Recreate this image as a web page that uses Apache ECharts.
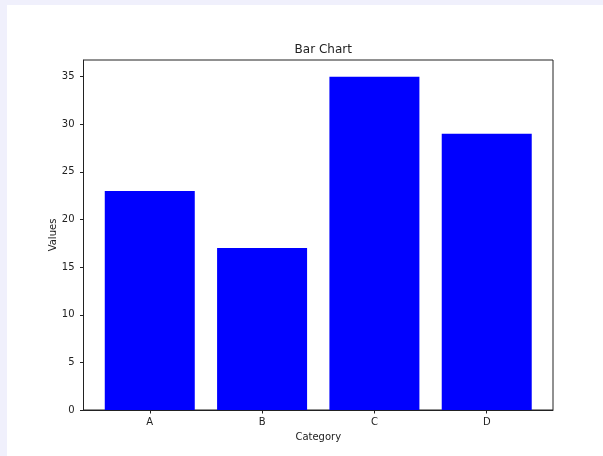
<!DOCTYPE html>
<html>
<head>
<meta charset="utf-8">
<script src="https://cdn.jsdelivr.net/npm/echarts@6/dist/echarts.min.js"></script>
<style>
  html, body { margin: 0; padding: 0; width: 603px; height: 456px; overflow: hidden; background: #f0f0fc; }
  #chart { position: absolute; left: 7px; top: 5px; width: 596px; height: 451px; background: #ffffff; }
</style>
</head>
<body>
<div id="chart"></div>
<script>
const categories = ['A', 'B', 'C', 'D'];
const values = [23, 17, 35, 29];
const yTicks = [0, 5, 10, 15, 20, 25, 30, 35];
const titleText = 'Bar Chart';
const xName = 'Category';
const yName = 'Values';

const positions = categories.map((c, i) => i);
const seriesData = values.map((v, i) => [positions[i], v]);

const chart = echarts.init(document.getElementById('chart'), null, { renderer: 'canvas' });
const FONT = 'DejaVu Sans';
const TXT = '#222';
chart.setOption({
  animation: false,
  backgroundColor: 'transparent',
  title: {
    text: titleText,
    left: 311.25, textAlign: 'center',
    top: 34,
    textStyle: { fontFamily: FONT, fontSize: 12, fontWeight: 'normal', color: TXT }
  },
  grid: {
    left: 76.5, top: 55, width: 469.5, height: 350,
    show: true, borderColor: '#222', borderWidth: 1, backgroundColor: 'transparent',
    containLabel: false
  },
  xAxis: {
    type: 'value',
    min: -0.59, max: 3.59,
    name: xName, nameLocation: 'middle', nameGap: 22.5, nameMoveOverlap: false,
    nameTextStyle: { fontFamily: FONT, fontSize: 10, color: TXT },
    axisLine: { show: true, onZero: false, lineStyle: { color: '#222', width: 1 } },
    axisTick: { show: true, length: 3.5, lineStyle: { color: '#222' }, customValues: positions },
    axisLabel: {
      show: true, margin: 7, fontFamily: FONT, fontSize: 10, color: TXT,
      customValues: positions,
      formatter: v => categories[Math.round(v)]
    },
    splitLine: { show: false }
  },
  yAxis: {
    type: 'value',
    min: 0, max: 36.75,
    name: yName, nameLocation: 'middle', nameGap: 25, nameRotate: 90, nameMoveOverlap: false,
    nameTextStyle: { fontFamily: FONT, fontSize: 10, color: TXT },
    axisLine: { show: true, onZero: false, lineStyle: { color: '#222', width: 1 } },
    axisTick: { show: true, length: 3.5, lineStyle: { color: '#222' }, customValues: yTicks },
    axisLabel: { show: true, margin: 9, fontFamily: FONT, fontSize: 10, color: TXT, customValues: yTicks },
    splitLine: { show: false }
  },
  series: [{
    type: 'bar',
    data: seriesData,
    barWidth: 90,
    itemStyle: { color: '#0000ff' }
  }]
});
</script>
</body>
</html>
